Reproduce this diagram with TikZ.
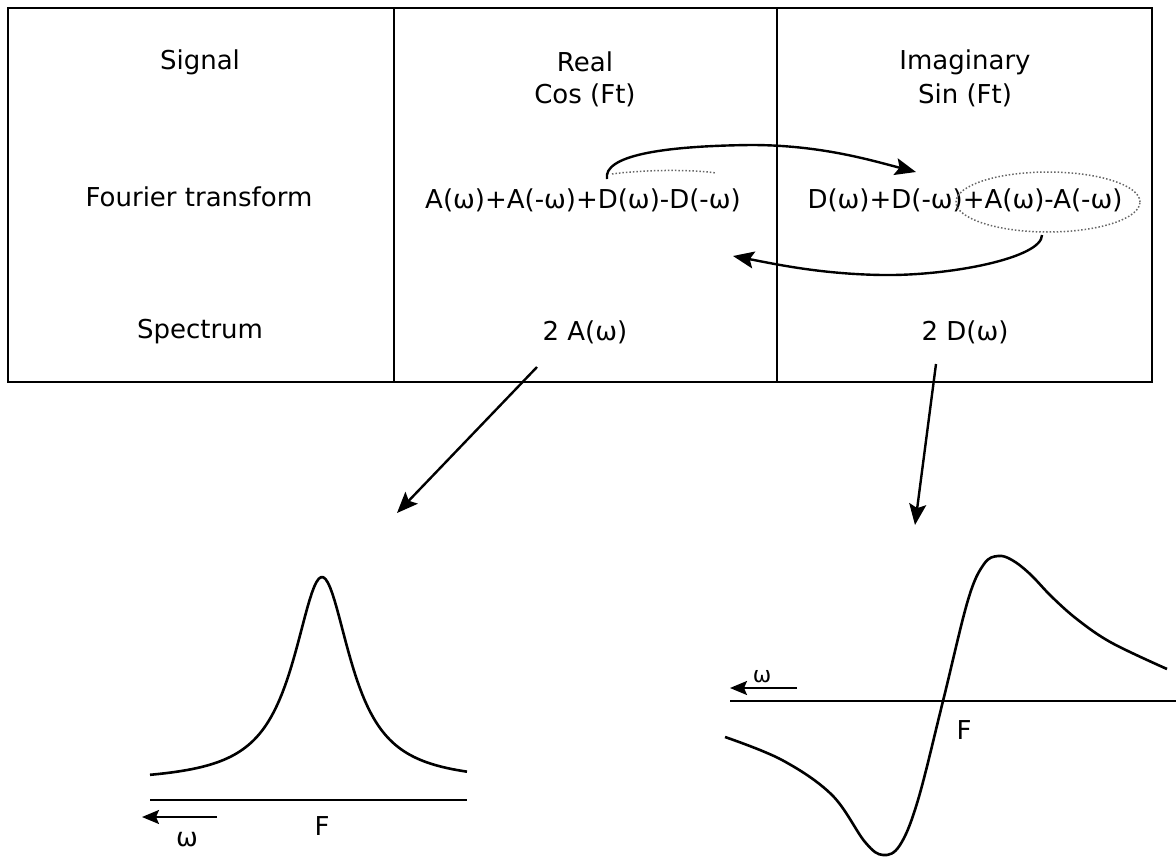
\documentclass[tikz,border=0pt]{standalone}
\usepackage{fontspec}
\setmainfont{DejaVu Sans}
\usetikzlibrary{arrows.meta,calc}
\tikzset{
    cell/.style={inner sep=0pt, font=\fontsize{26}{30}\selectfont},
    tag/.style={inner sep=0pt, font=\fontsize{22}{26}\selectfont},
    grid/.style={draw, line width=2.2pt},
    edge/.style={draw, line width=2.4pt, -{Stealth[length=21pt, width=17pt, inset=4pt]}},
    warrow/.style={draw, line width=2pt, -{Stealth[length=17pt, width=14pt, inset=3pt]}},
    axis/.style={draw, line width=2.2pt},
    curve/.style={draw, line width=2.6pt, line join=round},
    ring/.style={draw, dotted, line width=1.5pt, black!60}
}

\begin{document}
\begin{tikzpicture}[x=1pt, y=-1pt]
    \useasboundingbox (0,0) rectangle (1176,857);

    % table
    \draw[grid] (8,8) rectangle (1152,382);
    \draw[grid] (394,8) -- (394,382);
    \draw[grid] (777,8) -- (777,382);

    % Nodes
    \node[cell] (signal) at (200,62) {Signal};
    \node[cell] (real) at (585,62) {Real};
    \node[cell] (cos) at (585,95) {Cos (Ft)};
    \node[cell] (imag) at (965,62) {Imaginary};
    \node[cell] (sin) at (965,95) {Sin (Ft)};
    \node[cell] (fourier) at (199,197) {Fourier transform};
    \node[cell] (ftReal) at (583,200) {A(ω)+A(-ω)+D(ω)-D(-ω)};
    \node[cell] (ftImag) at (965,200) {D(ω)+D(-ω)+A(ω)-A(-ω)};
    \node[cell] (spectrum) at (200,332) {Spectrum};
    \node[cell] (specA) at (585,332) {2 A(ω)};
    \node[cell] (specD) at (965,332) {2 D(ω)};

    % marks round the terms
    \draw[ring] (612,174) .. controls (640,170) and (690,169) .. (716,173);
    \draw[ring] (1048,202) ellipse [x radius=92pt, y radius=30pt];

    % edges
    \coordinate (swapA) at (607,179);
    \coordinate (swapB) at (916,172);
    \coordinate (backA) at (1042,235);
    \coordinate (backB) at (733,256);
    \draw[edge] (swapA) .. controls (603,156) and (660,146) .. (751,145)
        .. controls (820,145) and (870,160) .. (swapB);
    \draw[edge] (backA) .. controls (1042,258) and (950,276) .. (882,275)
        .. controls (820,274) and (775,264) .. (backB);

    \coordinate (specAfrom) at (537,367);
    \coordinate (specAto) at (397,513);
    \coordinate (specDfrom) at (936,364);
    \coordinate (specDto) at (915,525);
    \draw[edge] (specAfrom) -- (specAto);
    \draw[edge] (specDfrom) -- (specDto);

    % absorption
    \draw[axis] (150,800) -- (467,800);
    \draw[curve] plot[domain=150:467, samples=140] (\x, {783 - 206/(1+((\x-322)/35)^2)});
    \coordinate (wLtail) at (217,817);
    \coordinate (wLtip) at (142,817);
    \draw[warrow] (wLtail) -- (wLtip);
    \node[cell] (omegaL) at (187,840) {ω};
    \node[cell] (freqL) at (322,826) {F};

    % dispersion
    \draw[axis] (730,701) -- (1176,701);
    \draw[curve] plot[smooth, tension=0.6] coordinates {
        (725,737) (782,760) (832,795) (865,842) (883,855) (900,845)
        (918,800) (943,701) (968,600) (984,564) (998,556) (1012,560)
        (1030,574) (1052,597) (1078,620) (1112,643) (1167,669)};
    \coordinate (wRtail) at (797,688);
    \coordinate (wRtip) at (730,688);
    \draw[warrow] (wRtail) -- (wRtip);
    \node[tag] (omegaR) at (762,677) {ω};
    \node[cell] (freqR) at (964,730) {F};
\end{tikzpicture}
\end{document}
